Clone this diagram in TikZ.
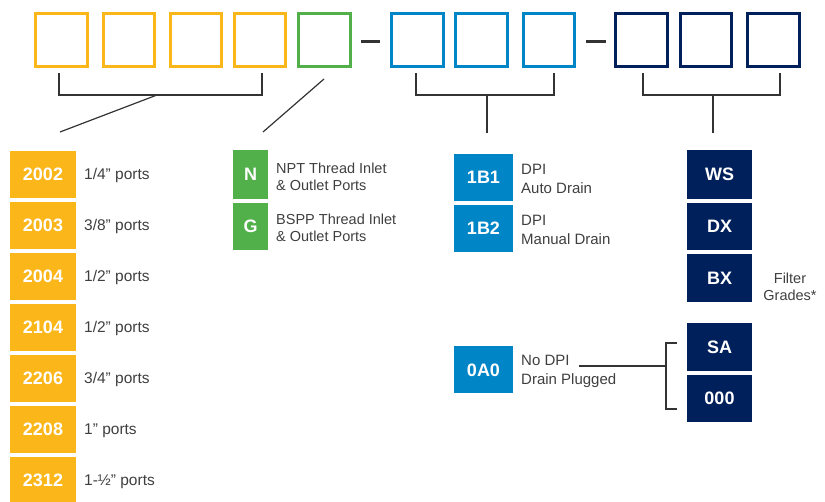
\documentclass[tikz,border=0pt]{standalone}
\usepackage{fontspec}
\setmainfont{Liberation Sans}
\definecolor{cOr}{HTML}{FBB619}
\definecolor{cGr}{HTML}{52B04B}
\definecolor{cBl}{HTML}{0085C7}
\definecolor{cNv}{HTML}{00205B}
\definecolor{cTx}{HTML}{3F3F3F}
\definecolor{cLn}{HTML}{333333}
\newcommand{\qq}{\symbol{34}}
\begin{document}
\begin{tikzpicture}[x=1pt,y=-1pt,
  slot/.style={draw=#1,line width=2.6pt,inner sep=0pt,outer sep=0pt,minimum width=51.5pt,minimum height=53.5pt},
  code/.style={fill=#1,inner sep=0pt,outer sep=0pt,text=white,font=\fontsize{18}{20}\selectfont\bfseries},
  lbl/.style={anchor=west,inner sep=0pt,text=cTx,align=left,font=\fontsize{15.5}{18.5}\selectfont},
  brk/.style={draw=cLn,line width=1.2pt}]
\useasboundingbox (0,0) rectangle (825,502);
% top slots
\node[slot=cOr] (o1) at (61.5,40) {};
\node[slot=cOr] (o2) at (129,40) {};
\node[slot=cOr] (o3) at (196,40) {};
\node[slot=cOr] (o4) at (260,40) {};
\node[slot=cGr] (g1) at (324.5,40) {};
\node[slot=cBl] (b1) at (417.5,40) {};
\node[slot=cBl] (b2) at (481.5,40) {};
\node[slot=cBl] (b3) at (549,40) {};
\node[slot=cNv] (n1) at (641.5,40) {};
\node[slot=cNv] (n2) at (706,40) {};
\node[slot=cNv] (n3) at (773.5,40) {};
\draw[line width=3pt,cLn] (361,42) -- (380,42);
\draw[line width=3pt,cLn] (586,42) -- (606,42);
% brackets
\draw[brk] (59,73) -- (59,95) -- (262,95) -- (262,73);
\draw[brk] (157,95) -- (60,132);
\draw[brk] (324,79) -- (263,132);
\draw[brk] (416,73) -- (416,95) -- (554,95) -- (554,73);
\draw[brk] (487,95) -- (487,133);
\draw[brk] (643,73) -- (643,95) -- (780,95) -- (780,73);
\draw[brk] (713,95) -- (713,133);
% left column
\foreach \c/\t/\i in {2002/{1/4\qq\ ports}/0, 2003/{3/8\qq\ ports}/1, 2004/{1/2\qq\ ports}/2, 2104/{1/2\qq\ ports}/3, 2206/{3/4\qq\ ports}/4, 2208/{1\qq\ ports}/5, 2312/{1-½\qq\ ports}/6}{
  \node[code=cOr,minimum width=66pt,minimum height=47pt] (p\c) at (43,174.5+51*\i) {\c};
  \node[lbl] (l\c) at (84,175.5+51*\i) {\t};
}
% green
\node[code=cGr,minimum width=35pt,minimum height=49pt] (gN) at (250.5,174.5) {N};
\node[code=cGr,minimum width=35pt,minimum height=47pt] (gG) at (250.5,226.5) {G};
\node[lbl,font=\fontsize{14.5}{17}\selectfont] (lN) at (276,176.5) {NPT Thread Inlet\\\& Outlet Ports};
\node[lbl,font=\fontsize{14.5}{17}\selectfont] (lG) at (276,227.5) {BSPP Thread Inlet\\\& Outlet Ports};
% blue
\node[code=cBl,minimum width=59pt,minimum height=47pt] (d1) at (483.5,177.5) {1B1};
\node[code=cBl,minimum width=59pt,minimum height=47pt] (d2) at (483.5,228.5) {1B2};
\node[code=cBl,minimum width=59pt,minimum height=47pt] (d0) at (483.5,370) {0A0};
\node[lbl,font=\fontsize{15}{19}\selectfont] (ld1) at (521,178.5) {DPI\\Auto Drain};
\node[lbl,font=\fontsize{15}{19}\selectfont] (ld2) at (521,229.5) {DPI\\Manual Drain};
\node[lbl,font=\fontsize{15}{19}\selectfont] (ld0) at (521,371.5) {No DPI\\Drain Plugged};
% navy
\node[code=cNv,minimum width=65pt,minimum height=49pt] (fWS) at (719.5,174.5) {WS};
\node[code=cNv,minimum width=65pt,minimum height=47pt] (fDX) at (719.5,226.5) {DX};
\node[code=cNv,minimum width=65pt,minimum height=48pt] (fBX) at (719.5,278) {BX};
\node[code=cNv,minimum width=65pt,minimum height=48pt] (fSA) at (719.5,347) {SA};
\node[code=cNv,minimum width=65pt,minimum height=47pt] (f00) at (719.5,398.5) {000};
\node[lbl,anchor=center,align=center,font=\fontsize{14.5}{17}\selectfont] (lfg) at (790,287) {Filter\\Grades*};
% 0A0 link
\coordinate (k0) at (579,366);
\coordinate (k1) at (666,366);
\draw[brk] (k0) -- (k1);
\draw[brk] (677,343) -- (666,343) -- (666,409) -- (677,409);
\end{tikzpicture}
\end{document}
